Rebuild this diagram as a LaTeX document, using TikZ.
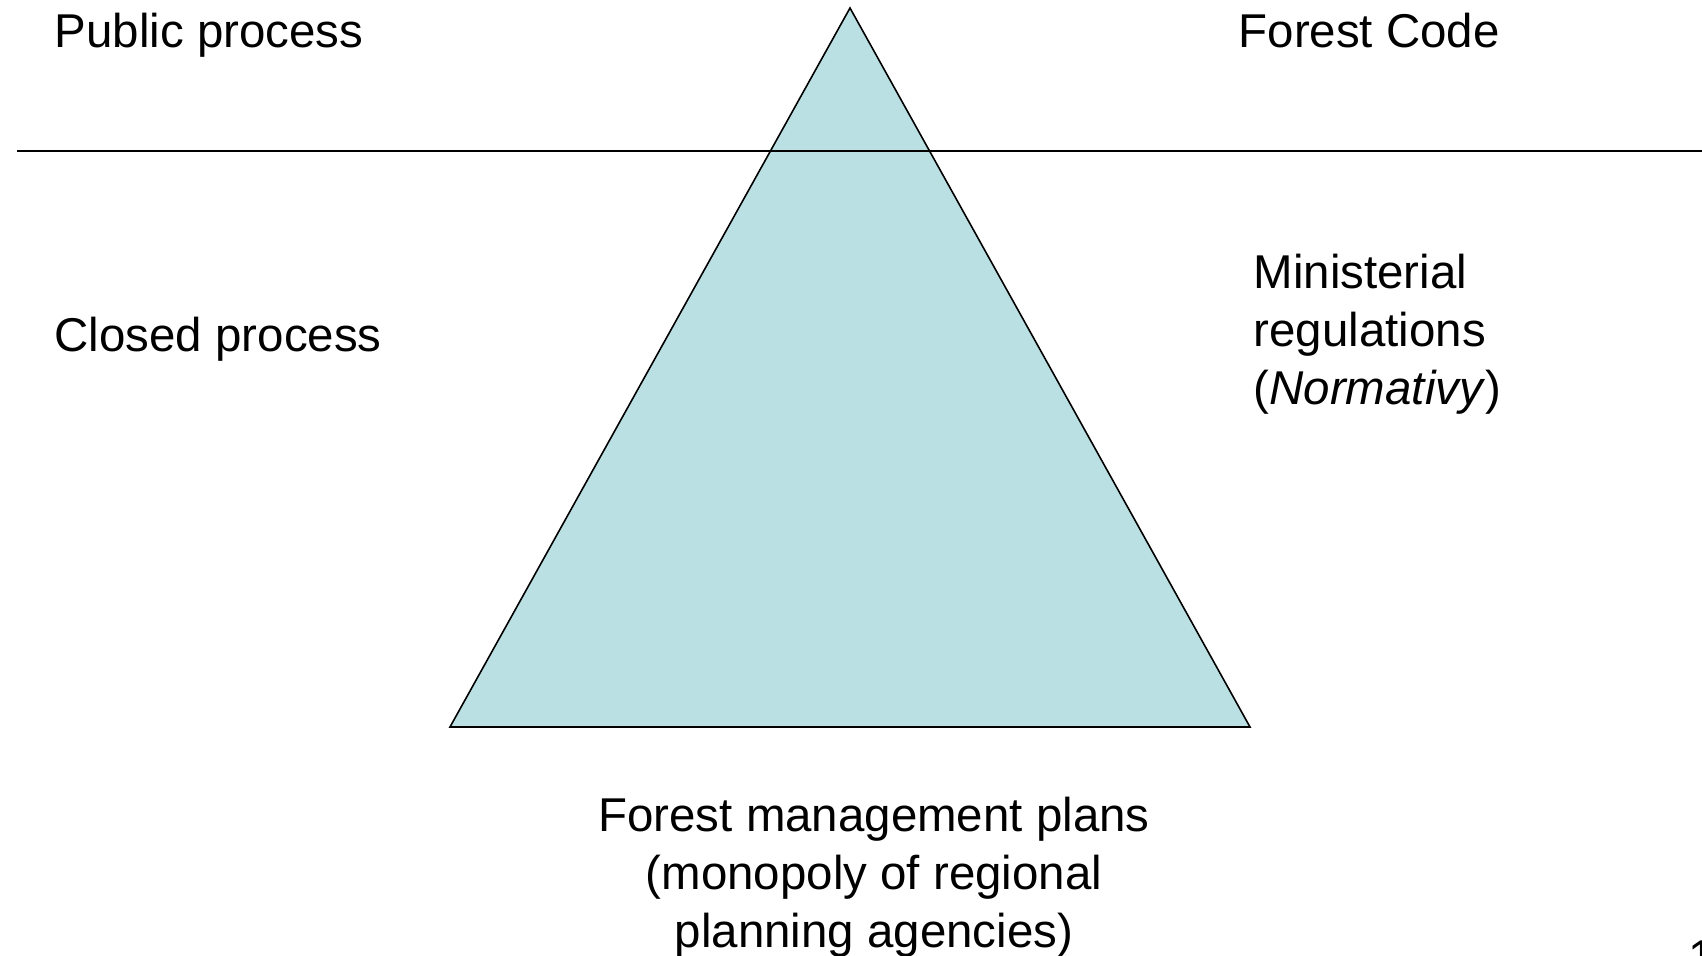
\documentclass[tikz,border=0pt]{standalone}
\usepackage{fontspec}
\setmainfont{Liberation Sans}
\usepackage{tikz}
\definecolor{pyramid}{RGB}{187,224,227}

\begin{document}
\begin{tikzpicture}[lbl/.style={inner sep=0pt, font=\fontsize{13.5}{16.5}\selectfont}]
        \useasboundingbox (0, 0) rectangle (17.02, 9.56);
        \coordinate (apex) at (8.5, 9.48);
        \coordinate (bl) at (4.5, 2.29);
        \coordinate (br) at (12.5, 2.29);
        \filldraw[fill=pyramid, line width=0.45pt] (apex) -- (bl) -- (br) -- cycle;
        \coordinate (lineL) at (0.17, 8.05);
        \coordinate (lineR) at (17.02, 8.05);
        \draw[line width=0.45pt] (lineL) -- (lineR);
        \node[lbl, anchor=base west] (public) at (0.54, 9.08) {Public process};
        \node[lbl, anchor=base west] (closed) at (0.54, 6.04) {Closed process};
        \node[lbl, anchor=base west] (code) at (12.38, 9.08) {Forest Code};
        \node[lbl, anchor=north west, align=left] (regs) at (12.53, 7.03)
          {Ministerial\\regulations\\(\textit{Normativy})};
        \node[lbl, anchor=north, align=center] (plans) at (8.74, 1.60)
          {Forest management plans\\(monopoly of regional\\planning agencies)};
        \node[lbl, anchor=base west] (pagenum) at (16.88, -0.18) {1};
      \end{tikzpicture}
\end{document}
